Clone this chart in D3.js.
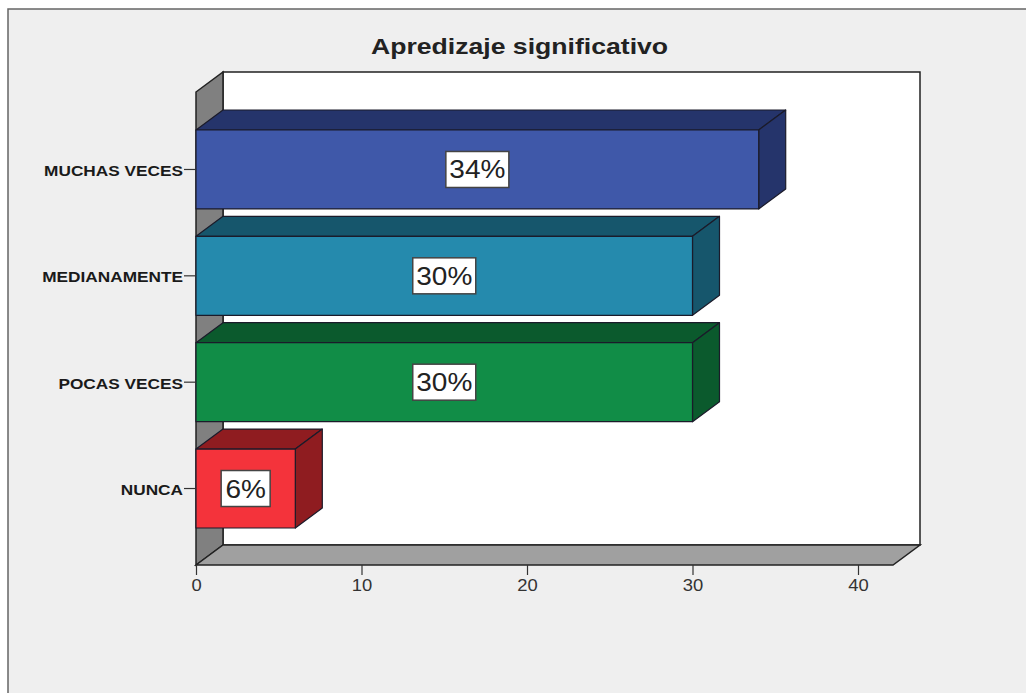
<!DOCTYPE html>
<html>
<head>
<meta charset="utf-8">
<script src="https://cdn.jsdelivr.net/npm/d3@7/dist/d3.min.js"></script>
<style>
html,body{margin:0;padding:0;background:#fff}
svg{display:block}
text{font-family:"Liberation Sans",Arial,sans-serif}
</style>
</head>
<body>
<svg id="chart" width="1026" height="693"></svg>
<script>
// Chart content
const chartTitle = "Apredizaje significativo";
const categories = ["MUCHAS VECES", "MEDIANAMENTE", "POCAS VECES", "NUNCA"];
const percentages = [34, 30, 30, 6];
const frontColors = ["#3f58a9", "#258aad", "#118d47", "#f4333b"];
const sideColors = ["#25346b", "#16566c", "#0b5a2d", "#8f1c20"];
const xTicks = [0, 10, 20, 30, 40];

const svg = d3.select("#chart");
const x = d3.scaleLinear().domain([0, 40]).range([196, 858]);
const y = d3.scaleBand().domain(categories).range([130, 528]).paddingInner(0.2575);

// Extrusion of the 3D box
const depthX = 27, depthY = -20;
const plot = {left: 196, right: 893, top: 92, bottom: 565};
const edge = "#222";
const poly = pts => pts.map(p => p.join(",")).join(" ");

// Outer panel
svg.append("rect").attr("x", 8).attr("y", 9).attr("width", 1030).attr("height", 700)
  .attr("fill", "#efefef").attr("stroke", "#666").attr("stroke-width", 1.5);

// Title, drawn in a widened face
svg.append("text").attr("transform", "translate(519.5,54) scale(1.21,1)")
  .attr("text-anchor", "middle")
  .attr("font-size", 22).attr("font-weight", 700).attr("fill", "#222")
  .text(chartTitle);

// Back wall, left wall and floor
svg.append("rect")
  .attr("x", plot.left + depthX).attr("y", plot.top + depthY)
  .attr("width", plot.right - plot.left).attr("height", plot.bottom - plot.top)
  .attr("fill", "#fff").attr("stroke", edge).attr("stroke-width", 1.5);
svg.append("polygon")
  .attr("points", poly([[plot.left, plot.top], [plot.left + depthX, plot.top + depthY],
    [plot.left + depthX, plot.bottom + depthY], [plot.left, plot.bottom]]))
  .attr("fill", "#808080").attr("stroke", edge).attr("stroke-width", 1.5);
svg.append("polygon")
  .attr("points", poly([[plot.left, plot.bottom], [plot.left + depthX, plot.bottom + depthY],
    [plot.right + depthX, plot.bottom + depthY], [plot.right, plot.bottom]]))
  .attr("fill", "#a0a0a0").attr("stroke", edge).attr("stroke-width", 1.5);

// Bars: top face, end face, front face
const bars = svg.append("g").selectAll("g").data(categories).join("g");
const strokeBar = s => s.attr("stroke", "#1b1b2a").attr("stroke-width", 1.2).attr("stroke-linejoin", "round");

bars.append("polygon").call(strokeBar)
  .attr("fill", (d, i) => sideColors[i])
  .attr("points", (d, i) => {
    const x0 = x(0), x1 = x(percentages[i]), t = y(d);
    return poly([[x0, t], [x0 + depthX, t + depthY], [x1 + depthX, t + depthY], [x1, t]]);
  });
bars.append("polygon").call(strokeBar)
  .attr("fill", (d, i) => sideColors[i])
  .attr("points", (d, i) => {
    const x1 = x(percentages[i]), t = y(d), b = t + y.bandwidth();
    return poly([[x1, t], [x1 + depthX, t + depthY], [x1 + depthX, b + depthY], [x1, b]]);
  });
bars.append("rect").call(strokeBar)
  .attr("fill", (d, i) => frontColors[i])
  .attr("x", x(0)).attr("y", d => y(d))
  .attr("width", (d, i) => x(percentages[i]) - x(0))
  .attr("height", y.bandwidth());

// Value labels on white boxes
const labels = svg.append("g").selectAll("g").data(categories).join("g")
  .attr("transform", (d, i) => `translate(${(x(0) + x(percentages[i])) / 2},${y(d) + y.bandwidth() / 2})`);
labels.append("rect")
  .attr("x", (d, i) => percentages[i] < 10 ? -24.5 : -31.5)
  .attr("y", -18)
  .attr("width", (d, i) => percentages[i] < 10 ? 49 : 63)
  .attr("height", 36)
  .attr("fill", "#fff").attr("stroke", "#444").attr("stroke-width", 1.5);
labels.append("text").attr("text-anchor", "middle")
  .attr("transform", "translate(0,9) scale(1.12,1)")
  .attr("font-size", 25).attr("fill", "#222")
  .style("-webkit-text-stroke", "0.8px #222")
  .text((d, i) => `${percentages[i]}%`);

// Value axis
const xAxis = svg.append("g").attr("transform", `translate(0,${plot.bottom})`)
  .call(d3.axisBottom(x).tickValues(xTicks).tickSize(10).tickPadding(3));
xAxis.select(".domain").remove();
xAxis.selectAll("line").attr("stroke", "#333").attr("stroke-width", 1.2);
xAxis.selectAll("text").attr("font-size", 16).attr("fill", "#333")
  .attr("y", 0).attr("dy", 0)
  .attr("transform", "translate(0,26) scale(1.15,1)")
  .style("font-family", '"Liberation Sans",Arial,sans-serif');

// Category axis; the labels sit slightly below their ticks
const yAxis = svg.append("g").attr("transform", `translate(${plot.left},0)`)
  .call(d3.axisLeft(y).tickSize(12).tickPadding(0));
yAxis.select(".domain").remove();
yAxis.selectAll("line").attr("stroke", "#333").attr("stroke-width", 1.2);
yAxis.selectAll("text").attr("font-size", 14.5).attr("font-weight", 700).attr("fill", "#1a1a1a")
  .attr("x", 0).attr("y", 0)
  .attr("transform", "translate(-13,2) scale(1.19,1)")
  .style("-webkit-text-stroke", "0.3px #1a1a1a")
  .style("font-family", '"Liberation Sans",Arial,sans-serif');
</script>
</body>
</html>
